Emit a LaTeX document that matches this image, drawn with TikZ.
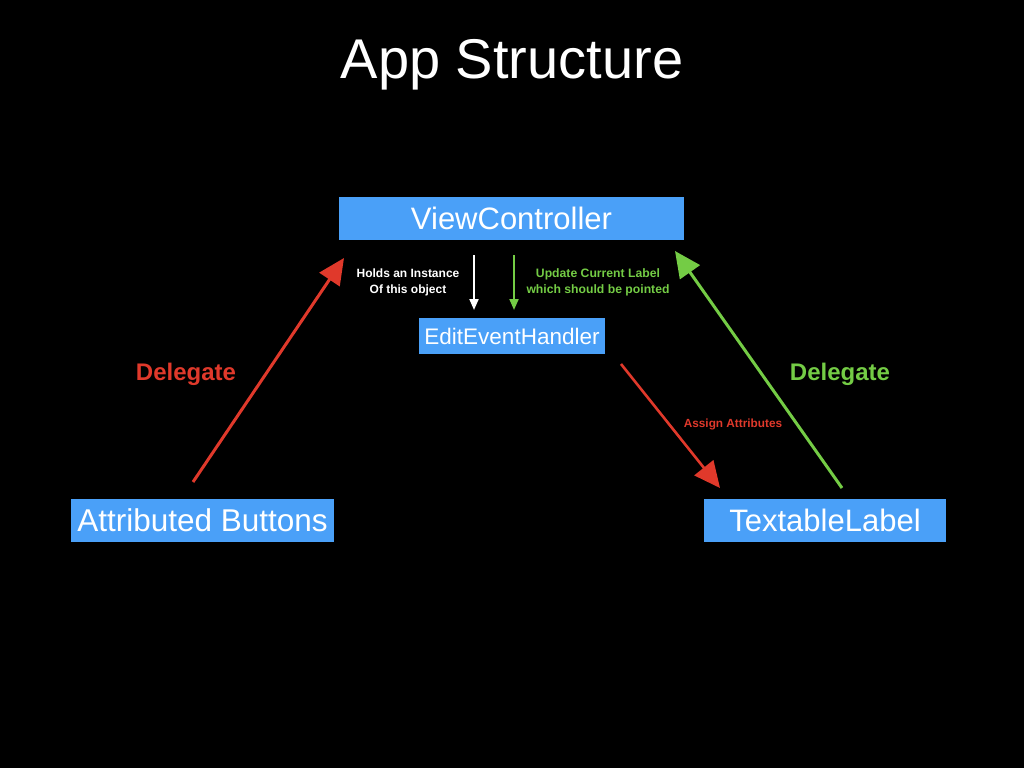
\documentclass[tikz,border=0pt]{standalone}
\usepackage{fontspec}
\setmainfont{Liberation Sans}
\usetikzlibrary{arrows.meta}
\definecolor{boxblue}{HTML}{4AA0F8}
\definecolor{dred}{HTML}{E0392B}
\definecolor{dgreen}{HTML}{74CC45}
\tikzset{
  box/.style={fill=boxblue, text=white, inner sep=0pt, anchor=center},
  bigarrow/.style={line width=3pt, -{Triangle[length=26pt,width=24pt]}},
  smallarrow/.style={line width=2pt, -{Triangle[length=11pt,width=9pt]}},
  lbl/.style={font=\bfseries, align=center, inner sep=0pt},
}
\begin{document}
\begin{tikzpicture}[x=1pt,y=-1pt]
\fill[black] (0,0) rectangle (1024,768);
\useasboundingbox (0,0) rectangle (1024,768);
\node[text=white, font=\fontsize{56}{60}\selectfont] (title) at (512,65) {App Structure};
\node[box, minimum width=345pt, minimum height=43pt, font=\fontsize{31}{34}\selectfont] (vc) at (511.5,218.5) {ViewController};
\node[box, minimum width=186pt, minimum height=36pt, font=\fontsize{22.5}{26}\selectfont] (eeh) at (512,336) {EditEventHandler};
\node[box, minimum width=263pt, minimum height=43pt, font=\fontsize{31.5}{34}\selectfont] (ab) at (202.5,520.5) {Attributed Buttons};
\node[box, minimum width=242pt, minimum height=43pt, font=\fontsize{31}{34}\selectfont] (tl) at (825,520.5) {TextableLabel};
\coordinate (r1s) at (193,482);
\coordinate (r1e) at (344,258);
\coordinate (wS) at (474,255);
\coordinate (wE) at (474,310);
\coordinate (gS) at (514,255);
\coordinate (gE) at (514,310);
\coordinate (r2s) at (621,364);
\coordinate (r2e) at (720,488);
\coordinate (g2s) at (842,488);
\coordinate (g2e) at (675,251);
\draw[bigarrow, dred] (r1s) -- (r1e);
\draw[smallarrow, white] (wS) -- (wE);
\draw[smallarrow, dgreen] (gS) -- (gE);
\draw[bigarrow, dred, line width=2.6pt] (r2s) -- (r2e);
\draw[bigarrow, dgreen] (g2s) -- (g2e);
\node[lbl, text=dred, font=\bfseries\fontsize{24}{28}\selectfont] (dl) at (186,374) {Delegate};
\node[lbl, text=dgreen, font=\bfseries\fontsize{24}{28}\selectfont] (dr) at (840,374) {Delegate};
\node[lbl, text=white, font=\bfseries\fontsize{12}{16}\selectfont] (hold) at (408,282) {Holds an Instance\\Of this object};
\node[lbl, text=dgreen, font=\bfseries\fontsize{12.2}{16}\selectfont] (upd) at (598,282) {Update Current Label\\which should be pointed};
\node[lbl, text=dred, font=\bfseries\fontsize{11.8}{14}\selectfont] (asg) at (733,424) {Assign Attributes};
\end{tikzpicture}
\end{document}
